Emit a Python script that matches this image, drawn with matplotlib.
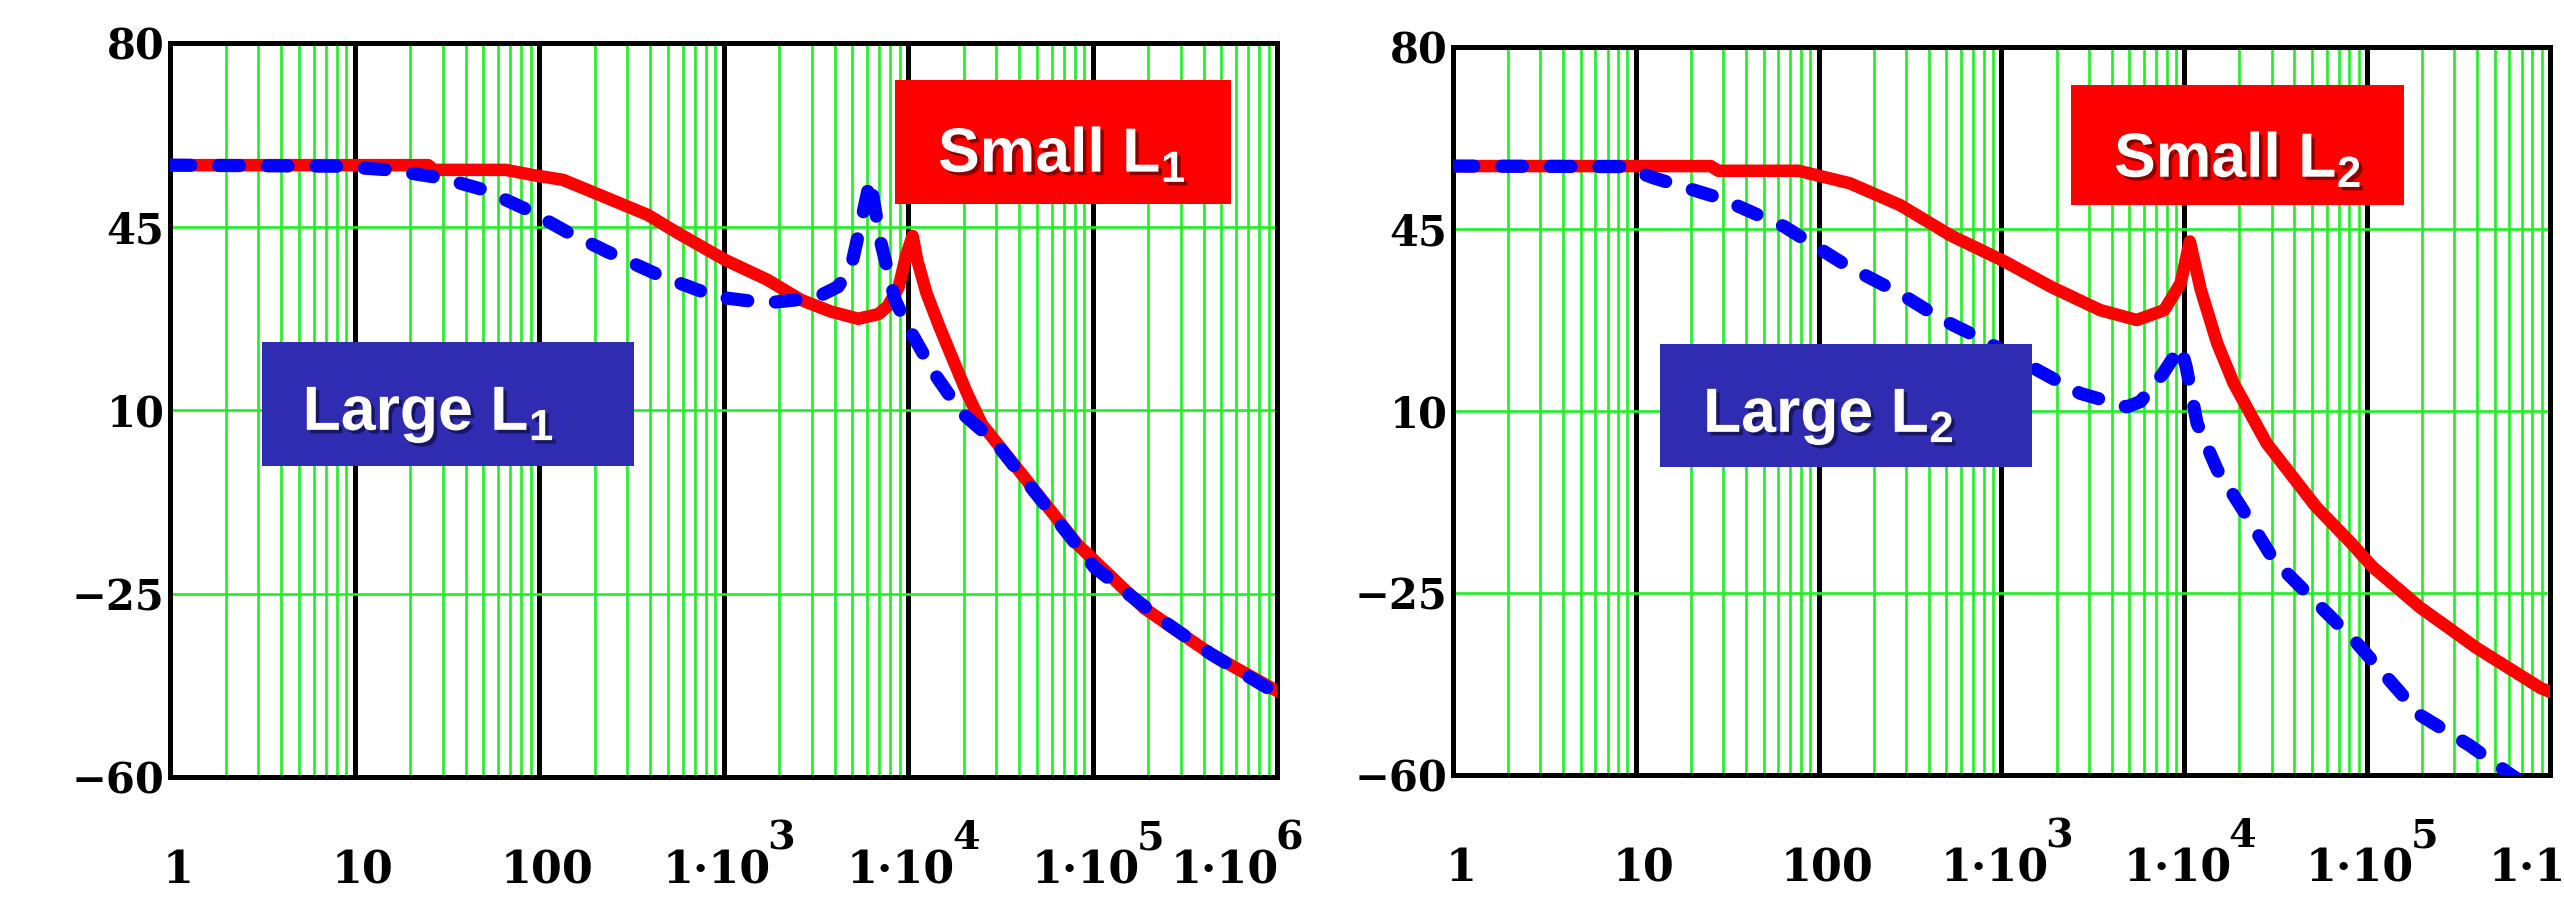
import numpy as np
import matplotlib
matplotlib.use("Agg")
import matplotlib.pyplot as plt
from matplotlib.patches import Rectangle
from matplotlib.ticker import LogLocator, NullFormatter, FixedLocator
from matplotlib.transforms import blended_transform_factory, offset_copy
import matplotlib.patheffects as pe
from matplotlib import font_manager as fm

# ---------------- data (log10 of frequency, magnitude in dB) ----------------
small1_logf = [0.0, 1.0, 1.40, 1.43, 1.82, 1.97, 2.13, 2.33, 2.59, 2.75, 3.01, 3.24, 3.42,
               3.58, 3.73, 3.84, 3.89, 3.95, 3.99, 4.025, 4.05, 4.10, 4.17, 4.245, 4.32,
               4.40, 4.60, 4.92, 5.28, 5.64, 6.0]
small1_db = [56.7, 56.7, 56.7, 55.8, 55.8, 54.8, 53.9, 51.0, 47.2, 43.8, 38.6, 34.8, 31.0,
             28.8, 27.4, 28.3, 29.8, 33.5, 39.5, 43.2, 38.6, 32.3, 25.9, 19.5, 13.2,
             7.3, -1.5, -15.7, -27.8, -36.5, -43.6]

large1_logf = [0.0, 0.9, 1.19, 1.48, 1.70, 1.93, 2.15, 2.37, 2.67, 2.96, 3.23, 3.50, 3.62,
               3.69, 3.75, 3.795, 3.85, 3.885, 3.93, 3.99, 4.08, 4.14, 4.29, 4.47, 4.74,
               5.01, 5.37, 5.64, 6.0]
large1_db = [56.7, 56.5, 55.8, 54.2, 52.0, 48.3, 44.0, 40.2, 35.4, 31.6, 30.4, 31.4, 33.5,
             37.0, 46.5, 53.9, 42.4, 37.3, 31.0, 26.5, 20.9, 17.1, 9.5, 4.0, -8.0,
             -20.0, -29.9, -36.5, -44.1]

small2_logf = [0.0, 1.41, 1.45, 1.89, 2.17, 2.445, 2.72, 3.02, 3.27, 3.54, 3.74, 3.89, 3.98,
               4.03, 4.09, 4.18, 4.27, 4.45, 4.72, 4.91, 5.03, 5.29, 5.60, 5.95, 6.0]
small2_db = [57.1, 57.1, 56.2, 56.2, 53.8, 49.6, 43.8, 38.7, 33.9, 29.4, 27.5, 29.4, 34.6,
             42.6, 33.3, 23.0, 15.3, 3.8, -8.4, -15.3, -20.0, -27.8, -35.6, -43.3, -44.0]

large2_logf = [0.0, 0.93, 1.10, 1.455, 1.81, 2.16, 2.445, 2.68, 2.90, 3.21, 3.43, 3.685, 3.76,
               3.885, 3.98, 4.01, 4.07, 4.18, 4.32, 4.49, 4.67, 4.94, 5.29, 5.56, 5.78, 6.0]
large2_db = [57.1, 57.0, 54.8, 51.0, 45.5, 37.8, 32.6, 27.5, 23.7, 17.6, 13.4, 10.8, 11.8,
             17.3, 22.4, 18.5, 7.6, -1.3, -9.0, -18.7, -25.0, -34.5, -48.5, -54.3, -59.8, -65.0]

ytick_vals = [-60, -25, 10, 45, 80]
ytick_labels = ["\u221260", "\u221225", "10", "45", "80"]
xtick_vals = [1, 10, 100, 1e3, 1e4, 1e5, 1e6]
xtick_base = ["1", "10", "100", "1\u00b710", "1\u00b710", "1\u00b710", "1\u00b710"]
xtick_exp = ["", "", "", "3", "4", "5", "6"]

legend_small = ["Small L$_\\mathbf{1}$", "Small L$_\\mathbf{2}$"]
legend_large = ["Large L$_\\mathbf{1}$", "Large L$_\\mathbf{2}$"]

# ---------------- style ----------------
W, H = 2564, 899
GREEN = "#1ff01f"
RED = "#ff0000"
BLUE = "#0000ff"
BOX_RED = "#ff0000"
BOX_BLUE = "#302cb2"
SERIF = "DejaVu Serif"

def has_font(name):
    try:
        fm.findfont(fm.FontProperties(family=name, weight="bold"), fallback_to_default=False)
        return True
    except Exception:
        return False

if has_font("Liberation Sans Narrow"):
    BOX_FONT, BOX_SIZE = "Liberation Sans Narrow", 53
else:
    BOX_FONT, BOX_SIZE = "Liberation Sans", 45

plt.rcParams["mathtext.fontset"] = "custom"
plt.rcParams["mathtext.bf"] = BOX_FONT + ":bold"
plt.rcParams["mathtext.rm"] = BOX_FONT + ":bold"
plt.rcParams["lines.scale_dashes"] = False

fig = plt.figure(figsize=(W / 100, H / 100), dpi=100)
ax1 = fig.add_axes([170 / W, 1 - 777 / H, 1107 / W, 734 / H])
ax2 = fig.add_axes([1453 / W, 1 - 775 / H, 1097 / W, 728 / H])

BASE_FS = 32
EXP_FS = 28.5


def style(ax, last_dx):
    ax.set_xscale("log")
    ax.set_xlim(1, 1e6)
    ax.set_ylim(-60, 80)
    ax.xaxis.set_major_locator(FixedLocator(xtick_vals))
    ax.xaxis.set_minor_locator(LogLocator(base=10, subs=range(2, 10), numticks=100))
    ax.xaxis.set_major_formatter(NullFormatter())
    ax.xaxis.set_minor_formatter(NullFormatter())
    ax.set_yticks(ytick_vals)
    ax.set_yticklabels(ytick_labels, fontfamily=SERIF, fontweight="bold", fontsize=30)
    ax.tick_params(which="both", length=0)
    ax.tick_params(axis="y", pad=4)
    ax.set_axisbelow(True)
    ax.grid(which="minor", axis="x", color=GREEN, lw=1.9)
    ax.grid(which="major", axis="x", color="black", lw=3.6)
    ax.grid(which="major", axis="y", color=GREEN, lw=1.9)
    for s in ax.spines.values():
        s.set_linewidth(3.6)
        s.set_color("black")
    # x tick labels with raised exponents
    trans = blended_transform_factory(ax.transData, ax.transAxes)
    for i, (v, b, e) in enumerate(zip(xtick_vals, xtick_base, xtick_exp)):
        if e == "":
            t = offset_copy(trans, fig=fig, x=8, y=-106, units="dots")
            ax.text(v, 0, b, transform=t, ha="center", va="baseline", fontfamily=SERIF,
                    fontweight="bold", fontsize=BASE_FS, clip_on=False)
        else:
            dx = 47 if i < len(xtick_vals) - 1 else last_dx
            tb = offset_copy(trans, fig=fig, x=dx, y=-106, units="dots")
            te = offset_copy(trans, fig=fig, x=dx - 3, y=-72, units="dots")
            ax.text(v, 0, b, transform=tb, ha="right", va="baseline", fontfamily=SERIF,
                    fontweight="bold", fontsize=BASE_FS, clip_on=False)
            ax.text(v, 0, e, transform=te, ha="left", va="baseline", fontfamily=SERIF,
                    fontweight="bold", fontsize=EXP_FS, clip_on=False)


def curves(ax, s_logf, s_db, l_logf, l_db):
    ax.plot(10 ** np.asarray(s_logf), s_db, color=RED, lw=9, solid_capstyle="round",
            solid_joinstyle="round", zorder=3)
    ax.plot(10 ** np.asarray(l_logf), l_db, color=BLUE, lw=9.5, dashes=(15, 20),
            dash_capstyle="round", dash_joinstyle="round", zorder=4)


def box(ax, x0, y0, x1, y1, color, tx, ty, label, shadow):
    ax.add_patch(Rectangle((x0, y0), x1 - x0, y1 - y0, transform=ax.transAxes,
                           facecolor=color, edgecolor="none", zorder=5, clip_on=False))
    ax.text(tx, ty, label, transform=ax.transAxes, ha="left", va="baseline",
            color="white", fontfamily=BOX_FONT, fontweight="bold", fontsize=BOX_SIZE,
            zorder=6,
            path_effects=[pe.SimplePatchShadow(offset=(2.5, -2.5), shadow_rgbFace=shadow,
                                               alpha=0.6),
                          pe.Normal()])


style(ax1, last_dx=2)
style(ax2, last_dx=47)
curves(ax1, small1_logf, small1_db, large1_logf, large1_db)
curves(ax2, small2_logf, small2_db, large2_logf, large2_db)

box(ax1, 0.655, 0.7807, 0.958, 0.9496, BOX_RED, 0.6938, 0.8243, legend_small[0], "#400000")
box(ax1, 0.0831, 0.4237, 0.4192, 0.5926, BOX_BLUE, 0.1198, 0.4728, legend_large[0], "#080830")
box(ax2, 0.5634, 0.7830, 0.8669, 0.9478, BOX_RED, 0.6026, 0.8214, legend_small[1], "#400000")
box(ax2, 0.1887, 0.4231, 0.5278, 0.5920, BOX_BLUE, 0.2279, 0.4712, legend_large[1], "#080830")

fig.savefig("out.png", dpi=100, facecolor="white")
